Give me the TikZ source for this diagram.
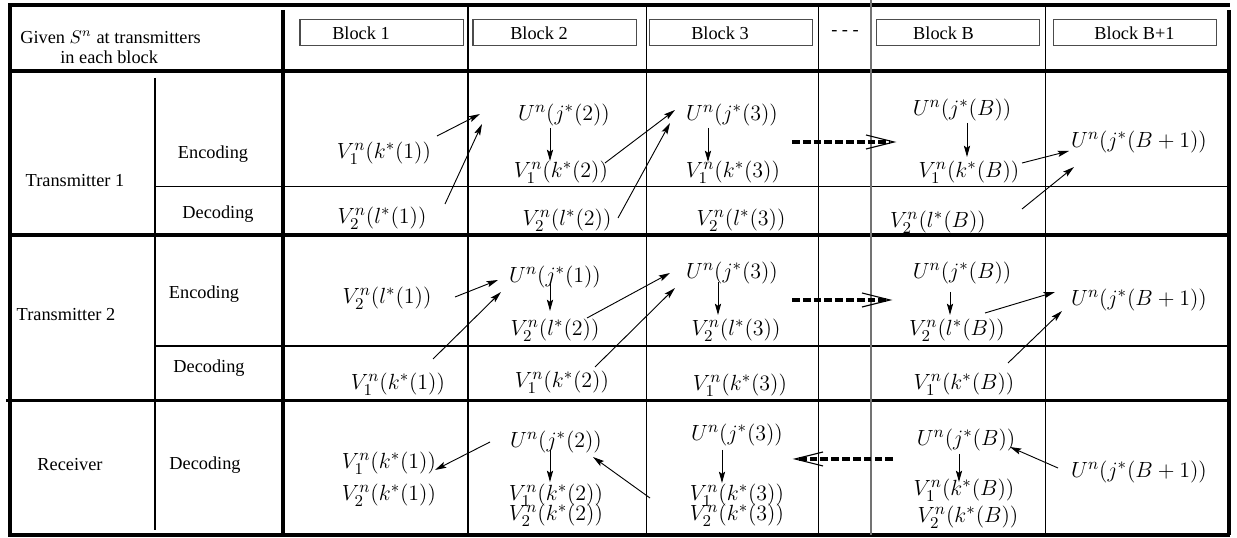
\documentclass[tikz,border=0pt]{standalone}
\usepackage{fontspec}
\setmainfont{Liberation Serif}
\usetikzlibrary{arrows.meta}
\newcommand\mytightlines{\lineskiplimit=-100pt\relax\lineskip=0pt\relax}
\begin{document}
\begin{tikzpicture}[x=0.546pt,y=-0.546pt,
  thickline/.style={line width=2.1pt},
  thinline/.style={line width=0.55pt},
  greyline/.style={line width=0.7pt, draw=black!55},
  lbl/.style={font=\fontsize{10}{12}\selectfont, inner sep=0pt},
  mth/.style={font=\fontsize{12.4}{14}\selectfont, inner sep=0pt},
  mthtwo/.style={font=\fontsize{12.4}{10.9}\selectfont\mytightlines, align=center, inner sep=0pt},
  arr/.style={-{Stealth[length=6.2pt,width=3.4pt,inset=1.2pt]}, line width=0.5pt},
  dotarr/.style={line width=2.2pt, dash pattern=on 4.2pt off 1.7pt},
  chev/.style={line width=0.6pt},
  blkbox/.style={draw=black!70, line width=0.55pt, minimum width=89pt, minimum height=14.7pt, inner sep=0pt}
]
\useasboundingbox (0,0) rectangle (1237,538);
% ---------- grid ----------
\draw[thickline] (8,5) -- (1230,5);
\draw[thickline] (8,71) -- (1230,71);
\draw[thickline] (8,235) -- (1230,235);
\draw[thickline] (6,400.5) -- (1230,400.5);
\draw[thickline] (8,535) -- (1230,535);
\draw[thinline] (155,187) -- (1229,187);
\draw[thinline] (155,346) -- (1229,346);
\draw[thickline] (10,5) -- (10,535);
\draw[thickline] (283,10) -- (283,535);
\draw[thickline] (1229,10) -- (1229,535);
\draw[thinline] (155,78) -- (155,530);
\draw[thinline] (468,5) -- (468,535);
\draw[thinline] (646,5) -- (646,535);
\draw[thinline] (818,5) -- (818,535);
\draw[greyline] (871,0) -- (871,535);
\draw[thinline] (1045,5) -- (1045,535);
% ---------- header ----------
\node[lbl, anchor=west] (given) at (20,37) {Given $S^n$ at transmitters};
\node[lbl, anchor=west] (each) at (60,57) {in each block};
\node[blkbox] (bx1) at (381.5,32.5) {};
\node[blkbox] (bx2) at (554.5,32.5) {};
\node[blkbox] (bx3) at (731,32.5) {};
\node[blkbox] (bxB) at (958,32.5) {};
\node[blkbox] (bxB1) at (1135,32.5) {};
\node[lbl] (t1) at (361,33) {Block 1};
\node[lbl] (t2) at (539,33) {Block 2};
\node[lbl] (t3) at (720,33) {Block 3};
\node[lbl] (tB) at (943.5,33) {Block B};
\node[lbl] (tB1) at (1134.5,33) {Block B+1};
\node[lbl] (hdots) at (845,33) {- - -};
% ---------- row labels ----------
\node[lbl] (tx1) at (75,181) {Transmitter 1};
\node[lbl] (enc1) at (213,154) {Encoding};
\node[lbl] (dec1) at (218,214) {Decoding};
\node[lbl] (tx2) at (66,315) {Transmitter 2};
\node[lbl] (enc2) at (204,294) {Encoding};
\node[lbl] (dec2) at (209,368) {Decoding};
\node[lbl] (rx) at (70,465) {Receiver};
\node[lbl] (dec3) at (205,465) {Decoding};
% ---------- Transmitter 1 ----------
\node[mth] (a1) at (384,153) {$V_1^n(k^*(1))$};
\node[mth] (a2) at (382,218) {$V_2^n(l^*(1))$};
\node[mth] (b0) at (564,115) {$U^n(j^*(2))$};
\node[mth] (b1) at (561,172) {$V_1^n(k^*(2))$};
\node[mth] (b2) at (567,220) {$V_2^n(l^*(2))$};
\node[mth] (c0) at (732,115) {$U^n(j^*(3))$};
\node[mth] (c1) at (733,172) {$V_1^n(k^*(3))$};
\node[mth] (c2) at (741,220) {$V_2^n(l^*(3))$};
\node[mth] (d0) at (962,110) {$U^n(j^*(B))$};
\node[mth] (d1) at (969,172) {$V_1^n(k^*(B))$};
\node[mth] (d2) at (938,222) {$V_2^n(l^*(B))$};
\node[mth] (e0) at (1139,142) {$U^n(j^*(B+1))$};
\coordinate (a1s) at (437,136); \coordinate (a1e) at (480,114);
\coordinate (a2s) at (445,204); \coordinate (a2e) at (482,124);
\coordinate (b0s) at (550,128); \coordinate (b0e) at (550,161);
\coordinate (b1s) at (605,163); \coordinate (b1e) at (675,110);
\coordinate (b2s) at (618,218); \coordinate (b2e) at (670,123);
\coordinate (c0s) at (708,128); \coordinate (c0e) at (708,162);
\coordinate (d0s) at (967,123); \coordinate (d0e) at (967,157);
\coordinate (d1s) at (1022,163); \coordinate (d1e) at (1069,151);
\coordinate (d2s) at (1022,209); \coordinate (d2e) at (1074,167);
\draw[arr] (a1s) -- (a1e);
\draw[arr] (a2s) -- (a2e);
\draw[arr] (b0s) -- (b0e);
\draw[arr] (b1s) -- (b1e);
\draw[arr] (b2s) -- (b2e);
\draw[arr] (c0s) -- (c0e);
\draw[arr] (d0s) -- (d0e);
\draw[arr] (d1s) -- (d1e);
\draw[arr] (d2s) -- (d2e);
\coordinate (p1s) at (792,142); \coordinate (p1e) at (890,142);
\draw[dotarr] (p1s) -- (p1e);
\draw[chev] ([shift={(-24,-7)}]p1e) -- ([shift={(4,0)}]p1e) -- ([shift={(-24,7)}]p1e);
% ---------- Transmitter 2 ----------
\node[mth] (f1) at (387,298) {$V_2^n(l^*(1))$};
\node[mth] (f2) at (398,384) {$V_1^n(k^*(1))$};
\node[mth] (g0) at (555,277) {$U^n(j^*(1))$};
\node[mth] (g1) at (555,330) {$V_2^n(l^*(2))$};
\node[mth] (g2) at (562,382) {$V_1^n(k^*(2))$};
\node[mth] (h0) at (732,273) {$U^n(j^*(3))$};
\node[mth] (h1) at (736,330) {$V_2^n(l^*(3))$};
\node[mth] (h2) at (740,385) {$V_1^n(k^*(3))$};
\node[mth] (i0) at (962,273) {$U^n(j^*(B))$};
\node[mth] (i1) at (957,330) {$V_2^n(l^*(B))$};
\node[mth] (i2) at (964,384) {$V_1^n(k^*(B))$};
\node[mth] (j0) at (1139,300) {$U^n(j^*(B+1))$};
\coordinate (f1s) at (455,297); \coordinate (f1e) at (498,280);
\coordinate (f2s) at (433,359); \coordinate (f2e) at (501,292);
\coordinate (g0s) at (550,283); \coordinate (g0e) at (550,311);
\coordinate (g1s) at (587,318); \coordinate (g1e) at (670,273);
\coordinate (g2s) at (595,367); \coordinate (g2e) at (675,288);
\coordinate (h0s) at (718,282); \coordinate (h0e) at (718,315);
\coordinate (i0s) at (950,292); \coordinate (i0e) at (950,315);
\coordinate (i1s) at (985,313); \coordinate (i1e) at (1055,292);
\coordinate (i2s) at (1008,363); \coordinate (i2e) at (1062,311);
\draw[arr] (f1s) -- (f1e);
\draw[arr] (f2s) -- (f2e);
\draw[arr] (g0s) -- (g0e);
\draw[arr] (g1s) -- (g1e);
\draw[arr] (g2s) -- (g2e);
\draw[arr] (h0s) -- (h0e);
\draw[arr] (i0s) -- (i0e);
\draw[arr] (i1s) -- (i1e);
\draw[arr] (i2s) -- (i2e);
\coordinate (p2s) at (792,300); \coordinate (p2e) at (886,300);
\draw[dotarr] (p2s) -- (p2e);
\draw[chev] ([shift={(-24,-7)}]p2e) -- ([shift={(4,0)}]p2e) -- ([shift={(-24,7)}]p2e);
% ---------- Receiver ----------
\node[mth] (k1) at (389,463) {$V_1^n(k^*(1))$};
\node[mth] (k2) at (389,495) {$V_2^n(k^*(1))$};
\node[mth] (l0) at (556,442) {$U^n(j^*(2))$};
\node[mthtwo] (l12) at (556,505) {$V_1^n(k^*(2))$\\$V_2^n(k^*(2))$};
\node[mth] (m0) at (737,435) {$U^n(j^*(3))$};
\node[mthtwo] (m12) at (737,505) {$V_1^n(k^*(3))$\\$V_2^n(k^*(3))$};
\node[mth] (n0) at (966,440) {$U^n(j^*(B))$};
\node[mth] (n1) at (964,490) {$V_1^n(k^*(B))$};
\node[mth] (n2) at (968,517) {$V_2^n(k^*(B))$};
\node[mth] (o0) at (1139,472) {$U^n(j^*(B+1))$};
\coordinate (l0s) at (490,442); \coordinate (l0e) at (435,470);
\coordinate (l0vs) at (550,450); \coordinate (l0ve) at (550,482);
\coordinate (m0as) at (650,498); \coordinate (m0ae) at (593,457);
\coordinate (m0vs) at (722,450); \coordinate (m0ve) at (722,483);
\coordinate (n0vs) at (959,454); \coordinate (n0ve) at (959,482);
\coordinate (o0s) at (1058,468); \coordinate (o0e) at (1010,447);
\draw[arr] (l0s) -- (l0e);
\draw[arr] (l0vs) -- (l0ve);
\draw[arr] (m0as) -- (m0ae);
\draw[arr] (m0vs) -- (m0ve);
\draw[arr] (n0vs) -- (n0ve);
\draw[arr] (o0s) -- (o0e);
\coordinate (p3s) at (893,459); \coordinate (p3e) at (799,459);
\draw[dotarr] (p3s) -- (p3e);
\draw[chev] ([shift={(24,-7)}]p3e) -- ([shift={(-4,0)}]p3e) -- ([shift={(24,7)}]p3e);
\end{tikzpicture}
\end{document}
